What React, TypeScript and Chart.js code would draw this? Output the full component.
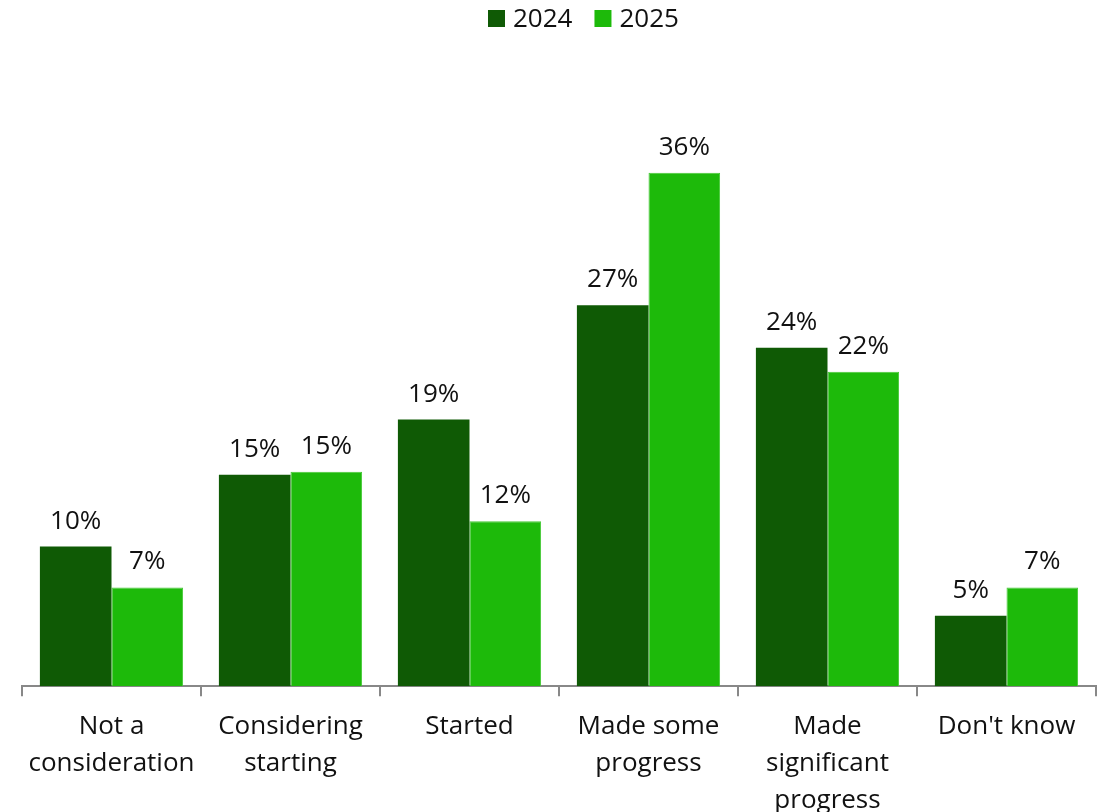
import React, { useEffect, useRef } from "react";
import { Chart, registerables } from "chart.js";

Chart.register(...registerables);

const categories: (string | string[])[] = [
  ["Not a", "consideration"],
  ["Considering", "starting"],
  "Started",
  ["Made some", "progress"],
  ["Made", "significant", "progress"],
  "Don't know",
];
const seriesNames = ["2024", "2025"];
const values2024 = [9.9, 15.0, 18.9, 27.0, 24.0, 5.0];
const values2025 = [7.0, 15.2, 11.7, 36.4, 22.3, 7.0];
const seriesColors = ["#0f5a05", "#1dba0a"];
const seriesBorders = ["#0f5a05", "#45c935"];

const FONT = "'Open Sans', sans-serif";

const labelPlugin = {
  id: "barLabels",
  afterDatasetsDraw(chart: any) {
    const ctx = chart.ctx;
    ctx.save();
    ctx.font = `26px ${FONT}`;
    ctx.fillStyle = "#111";
    ctx.textAlign = "center";
    ctx.textBaseline = "alphabetic";
    chart.data.datasets.forEach((ds: any, i: number) => {
      const meta = chart.getDatasetMeta(i);
      meta.data.forEach((el: any, j: number) => {
        const v = ds.data[j];
        ctx.fillText(`${Math.round(v)}%`, el.x, el.y - 18);
      });
    });
    ctx.restore();
  },
};

const legendPlugin = {
  id: "customLegend",
  afterDraw(chart: any) {
    const ctx = chart.ctx;
    ctx.save();
    ctx.font = `26px ${FONT}`;
    ctx.textAlign = "left";
    ctx.textBaseline = "alphabetic";
    let x = 488;
    chart.data.datasets.forEach((ds: any) => {
      ctx.fillStyle = ds.backgroundColor;
      ctx.fillRect(x, 10, 17, 17);
      ctx.fillStyle = "#111";
      ctx.fillText(ds.label, x + 25, 27);
      x += 25 + ctx.measureText(ds.label).width + 22;
    });
    ctx.restore();
  },
};

export default function App() {
  const ref = useRef<HTMLCanvasElement>(null);
  useEffect(() => {
    document.body.style.margin = "0";
    document.body.style.overflow = "hidden";
    const chart = new Chart(ref.current!, {
      type: "bar",
      data: {
        labels: categories,
        datasets: [
          {
            label: seriesNames[0],
            data: values2024,
            backgroundColor: seriesColors[0],
            borderColor: seriesBorders[0],
            borderWidth: 0,
          },
          {
            label: seriesNames[1],
            data: values2025,
            backgroundColor: seriesColors[1],
            borderColor: seriesBorders[1],
            borderWidth: 1,
          },
        ],
      },
      options: {
        animation: false,
        responsive: false,
        maintainAspectRatio: false,
        layout: { padding: { left: 22, right: 8, top: 50, bottom: 0 } },
        datasets: { bar: { categoryPercentage: 0.8, barPercentage: 1.0 } },
        plugins: {
          legend: { display: false },
          tooltip: { enabled: false },
        },
        scales: {
          x: {
            grid: {
              display: true,
              offset: true,
              drawOnChartArea: false,
              drawTicks: true,
              tickLength: 10,
              color: "#888",
              lineWidth: 2,
            },
            border: { display: true, color: "#888", width: 2 },
            ticks: {
              font: { family: FONT, size: 26, lineHeight: 1.42 },
              color: "#111",
              padding: 12,
              maxRotation: 0,
              autoSkip: false,
            },
          },
          y: {
            display: false,
            min: 0,
            max: 45.1,
          },
        },
      },
      plugins: [labelPlugin, legendPlugin],
    });
    return () => chart.destroy();
  }, []);
  return (
    <div style={{ width: 1104, height: 812, overflow: "hidden" }}>
      <canvas ref={ref} width={1104} height={831} style={{ display: "block" }} />
    </div>
  );
}
